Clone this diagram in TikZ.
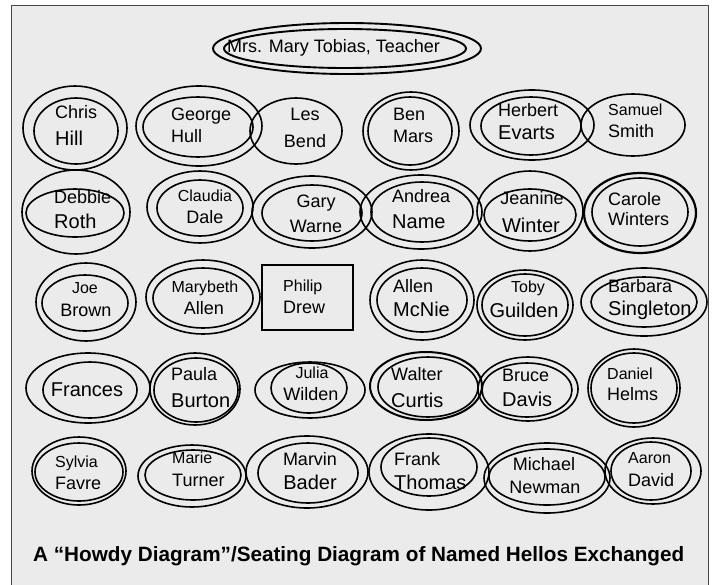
\documentclass[tikz,border=0pt]{standalone}
\usepackage{fontspec}
\setmainfont{Liberation Sans}
\definecolor{paper}{HTML}{EBEBEB}
\definecolor{framegray}{HTML}{454545}
\tikzset{
    ring/.style = {draw = black, line width = 1.6pt},
    sm/.style = {inner sep = 0pt, font = \fontsize{16}{19}\selectfont},
    md/.style = {inner sep = 0pt, font = \fontsize{18}{21}\selectfont},
    lg/.style = {inner sep = 0pt, font = \fontsize{20}{24}\selectfont},
    captext/.style = {inner sep = 0pt, font = \bfseries\fontsize{20.7}{25}\selectfont}
}

\begin{document}
\begin{tikzpicture}[x = 1pt, y = -1pt]
    \useasboundingbox (0,0) rectangle (714,584);
    \fill[white] (0,0) rectangle (714,584);
    \draw[framegray, fill = paper, line width = 1pt] (11,5) rectangle (708,600);

    % teacher
    \draw[ring, line width = 1.9pt] (347,48.5) ellipse [x radius = 134, y radius = 25.5];
    \draw[ring, line width = 1.9pt] (345,48.5) ellipse [x radius = 121, y radius = 19.5];
    \node[md, anchor = base west] (teacher) at (227,52) {Mrs. Mary Tobias, Teacher};

    % row 1
    \draw[ring] (75,128) ellipse [x radius = 52, y radius = 42];
    \draw[ring] (76,131) ellipse [x radius = 42, y radius = 33];
    \draw[ring] (199,126) ellipse [x radius = 63, y radius = 40];
    \draw[ring] (198,127) ellipse [x radius = 55, y radius = 30];
    \draw[ring] (296,131) ellipse [x radius = 46, y radius = 33];
    \draw[ring] (411,131) ellipse [x radius = 48, y radius = 39];
    \draw[ring] (410,131) ellipse [x radius = 42, y radius = 34];
    \draw[ring] (532,125) ellipse [x radius = 62, y radius = 35];
    \draw[ring] (531,126) ellipse [x radius = 50, y radius = 29];
    \draw[ring] (633,125) ellipse [x radius = 52, y radius = 31];
    \node[md, anchor = base west] (chris) at (55,118) {Chris};
    \node[lg, anchor = base west] (hill) at (55,145) {Hill};
    \node[md, anchor = base west] (george) at (171,120) {George};
    \node[md, anchor = base west] (hull) at (171,142) {Hull};
    \node[md, anchor = base] (les) at (305,120) {Les};
    \node[md, anchor = base] (bend) at (305,147) {Bend};
    \node[md, anchor = base west] (ben) at (393,120) {Ben};
    \node[md, anchor = base west] (mars) at (393,142) {Mars};
    \node[md, anchor = base west] (herbert) at (498,116) {Herbert};
    \node[lg, anchor = base west] (evarts) at (498,139) {Evarts};
    \node[sm, anchor = base west] (samuel) at (608,115) {Samuel};
    \node[md, anchor = base west] (smith) at (608,137) {Smith};

    % row 2
    \draw[ring] (76,212) ellipse [x radius = 54, y radius = 42];
    \draw[ring] (75,213) ellipse [x radius = 49, y radius = 24];
    \draw[ring] (200,207) ellipse [x radius = 53, y radius = 36];
    \draw[ring] (200,208) ellipse [x radius = 43, y radius = 28];
    \draw[ring] (312,212) ellipse [x radius = 60, y radius = 36];
    \draw[ring] (312,213) ellipse [x radius = 50, y radius = 28];
    \draw[ring] (421,212) ellipse [x radius = 61, y radius = 37];
    \draw[ring] (422,212) ellipse [x radius = 51, y radius = 30];
    \draw[ring] (530,211) ellipse [x radius = 53, y radius = 40];
    \draw[ring] (530,215) ellipse [x radius = 46, y radius = 26];
    \draw[ring, line width = 2.2pt] (640,213) ellipse [x radius = 56, y radius = 40];
    \draw[ring] (640,212) ellipse [x radius = 48, y radius = 34];
    \node[md, anchor = base west] (debbie) at (54,203) {Debbie};
    \node[lg, anchor = base west] (roth) at (54,228) {Roth};
    \node[sm, anchor = base] (claudia) at (205,201) {Claudia};
    \node[md, anchor = base] (dale) at (205,223) {Dale};
    \node[md, anchor = base] (gary) at (316,207) {Gary};
    \node[md, anchor = base] (warne) at (316,232) {Warne};
    \node[md, anchor = base west] (andrea) at (392,202) {Andrea};
    \node[lg, anchor = base west] (name) at (392,228) {Name};
    \node[md, anchor = base] (jeanine) at (532,204) {Jeanine};
    \node[lg, anchor = base] (winter) at (531,232) {Winter};
    \node[md, anchor = base west] (carole) at (608,205) {Carole};
    \node[md, anchor = base west] (winters) at (608,225) {Winters};

    % row 3
    \draw[ring] (86,302) ellipse [x radius = 50, y radius = 39];
    \draw[ring] (85,303) ellipse [x radius = 43, y radius = 28];
    \draw[ring] (203,297) ellipse [x radius = 57, y radius = 37];
    \draw[ring] (203,298) ellipse [x radius = 50, y radius = 30];
    \draw[ring, line width = 2.2pt] (262,265) rectangle (353,330);
    \draw[ring] (422,300) ellipse [x radius = 52, y radius = 40];
    \draw[ring] (422,300) ellipse [x radius = 45, y radius = 32];
    \draw[ring] (525,305) ellipse [x radius = 48, y radius = 35];
    \draw[ring] (525,305) ellipse [x radius = 43, y radius = 31];
    \draw[ring] (644,302) ellipse [x radius = 63, y radius = 34];
    \draw[ring] (644,302) ellipse [x radius = 53, y radius = 25];
    \node[sm, anchor = base] (joe) at (85,293) {Joe};
    \node[md, anchor = base] (brown) at (86,316) {Brown};
    \node[sm, anchor = base] (marybeth) at (205,292) {Marybeth};
    \node[md, anchor = base] (mallen) at (204,314) {Allen};
    \node[sm, anchor = base west] (philip) at (283,291) {Philip};
    \node[md, anchor = base west] (drew) at (283,313) {Drew};
    \node[md, anchor = base west] (allen) at (393,292) {Allen};
    \node[lg, anchor = base west] (mcnie) at (393,316) {McNie};
    \node[sm, anchor = base] (toby) at (528,292) {Toby};
    \node[lg, anchor = base] (guilden) at (524,317) {Guilden};
    \node[md, anchor = base west] (barbara) at (608,292) {Barbara};
    \node[lg, anchor = base west] (singleton) at (608,315) {Singleton};

    % row 4
    \draw[ring] (88,388) ellipse [x radius = 62, y radius = 35];
    \draw[ring] (90,390) ellipse [x radius = 47, y radius = 28];
    \draw[ring] (195,389) ellipse [x radius = 45, y radius = 36];
    \draw[ring] (196,390) ellipse [x radius = 42, y radius = 32];
    \draw[ring] (310,390) ellipse [x radius = 55, y radius = 28];
    \draw[ring] (309,388) ellipse [x radius = 38, y radius = 25];
    \draw[ring, line width = 2pt] (426,386) ellipse [x radius = 56, y radius = 34];
    \draw[ring] (428,387) ellipse [x radius = 50, y radius = 30];
    \draw[ring] (528,389) ellipse [x radius = 50, y radius = 32];
    \draw[ring] (527,390) ellipse [x radius = 45, y radius = 27];
    \draw[ring] (634,388) ellipse [x radius = 46, y radius = 39];
    \draw[ring] (634,388) ellipse [x radius = 43, y radius = 35];
    \node[lg, anchor = base] (frances) at (87,396) {Frances};
    \node[md, anchor = base west] (paula) at (171,380) {Paula};
    \node[lg, anchor = base west] (burton) at (171,407) {Burton};
    \node[sm, anchor = base] (julia) at (312,378) {Julia};
    \node[md, anchor = base] (wilden) at (311,400) {Wilden};
    \node[md, anchor = base west] (walter) at (391,380) {Walter};
    \node[lg, anchor = base west] (curtis) at (391,407) {Curtis};
    \node[md, anchor = base west] (bruce) at (502,381) {Bruce};
    \node[lg, anchor = base west] (davis) at (502,406) {Davis};
    \node[sm, anchor = base west] (daniel) at (607,379) {Daniel};
    \node[md, anchor = base west] (helms) at (607,400) {Helms};

    % row 5
    \draw[ring] (79,471) ellipse [x radius = 47, y radius = 34];
    \draw[ring] (79,472) ellipse [x radius = 44, y radius = 29];
    \draw[ring] (192,476) ellipse [x radius = 54, y radius = 31];
    \draw[ring] (193,475) ellipse [x radius = 48, y radius = 25];
    \draw[ring] (307,472) ellipse [x radius = 61, y radius = 36];
    \draw[ring] (308,473) ellipse [x radius = 50, y radius = 30];
    \draw[ring] (429,472) ellipse [x radius = 60, y radius = 38];
    \draw[ring] (429,467) ellipse [x radius = 48, y radius = 29];
    \draw[ring] (547,478) ellipse [x radius = 63, y radius = 35];
    \draw[ring] (547,477) ellipse [x radius = 58, y radius = 28];
    \draw[ring] (653,471) ellipse [x radius = 48, y radius = 33];
    \draw[ring] (651,471) ellipse [x radius = 40, y radius = 29];
    \node[sm, anchor = base west] (sylvia) at (55,467) {Sylvia};
    \node[md, anchor = base west] (favre) at (55,489) {Favre};
    \node[sm, anchor = base west] (marie) at (172,463) {Marie};
    \node[md, anchor = base west] (turner) at (172,486) {Turner};
    \node[md, anchor = base] (marvin) at (310,465) {Marvin};
    \node[lg, anchor = base] (bader) at (310,489) {Bader};
    \node[md, anchor = base west] (frank) at (394,465) {Frank};
    \node[lg, anchor = base west] (thomas) at (394,489) {Thomas};
    \node[md, anchor = base] (michael) at (544,470) {Michael};
    \node[md, anchor = base] (newman) at (545,493) {Newman};
    \node[sm, anchor = base west] (aaron) at (628,463) {Aaron};
    \node[md, anchor = base west] (david) at (628,486) {David};

    % caption
    \node[captext, anchor = base west] (caption) at (33,561) {A “Howdy Diagram”/Seating Diagram of Named Hellos Exchanged};
\end{tikzpicture}
\end{document}
